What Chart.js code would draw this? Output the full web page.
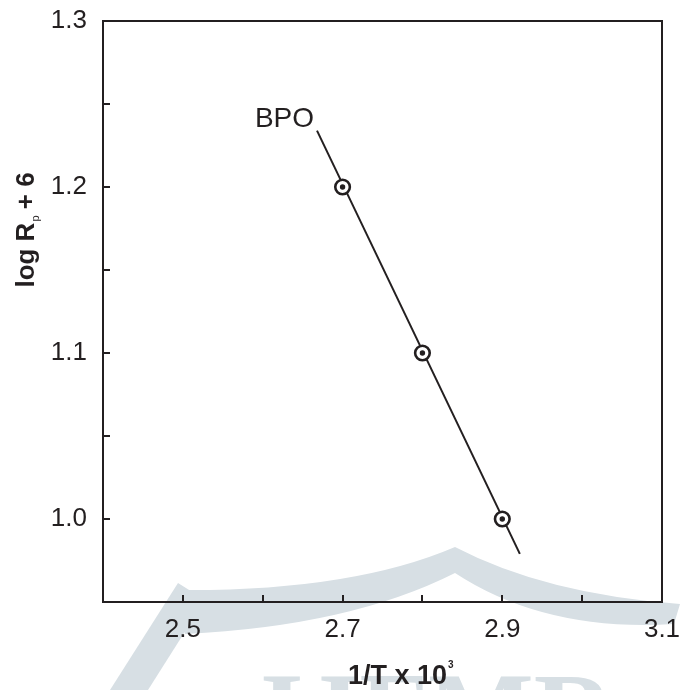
<!DOCTYPE html>
<html>
<head>
<meta charset="utf-8">
<title>log Rp + 6 vs 1/T</title>
<script src="https://cdn.jsdelivr.net/npm/chart.js@4.4.1/dist/chart.umd.min.js"></script>
<style>
    html, body { margin: 0; padding: 0; background: #fff; }
    #wrap { width: 685px; height: 690px; }
</style>
</head>
<body>
<div id="wrap"><canvas id="chart" width="685" height="690"></canvas></div>
<script>
// BPO points
const invT = [2.7, 2.8, 2.9];
const logRp = [1.2, 1.1, 1.0];
// straight line drawn through them (end points)
const fitX = [2.668, 2.922];
const fitY = [1.234, 0.979];
const seriesName = 'BPO';
const xRange = [2.4, 3.1];
const yRange = [0.95, 1.3];

const INK = '#231f20';
const FONT = '"Liberation Sans", Arial, sans-serif';

function toPoints(xs, ys) {
    return xs.map((x, i) => ({ x: x, y: ys[i] }));
}

// faint logo watermark behind the plot
const watermark = {
    id: 'watermark',
    beforeDraw(chart) {
        const ctx = chart.ctx;
        ctx.save();
        ctx.fillStyle = '#d7dfe4';
        ctx.beginPath();
        ctx.moveTo(110, 690);
        ctx.lineTo(148, 690);
        ctx.lineTo(205, 600);
        ctx.lineTo(178, 583);
        ctx.closePath();
        ctx.fill();

        ctx.beginPath();
        ctx.moveTo(175, 590);
        ctx.quadraticCurveTo(350, 592, 455, 547);
        ctx.quadraticCurveTo(545, 594, 680, 604);
        ctx.lineTo(674, 624);
        ctx.quadraticCurveTo(545, 632, 455, 573);
        ctx.quadraticCurveTo(350, 626, 185, 634);
        ctx.closePath();
        ctx.fill();

        ctx.font = 'bold 112px "Liberation Serif", "DejaVu Serif", serif';
        ctx.textBaseline = 'alphabetic';
        ctx.fillText('IJFMR', 260, 750);
        ctx.restore();
    }
};

// box, inward tick marks, axis titles and series label
const frame = {
    id: 'frame',
    afterDatasetsDraw(chart) {
        const ctx = chart.ctx;
        const area = chart.chartArea;
        const xs = chart.scales.x;
        const ys = chart.scales.y;
        const tick = 7;

        ctx.save();
        ctx.strokeStyle = INK;
        ctx.lineWidth = 2;
        ctx.strokeRect(area.left, area.top, area.right - area.left, area.bottom - area.top);

        ctx.beginPath();
        xs.ticks.forEach(t => {
            const px = Math.round(xs.getPixelForValue(t.value));
            ctx.moveTo(px, area.bottom);
            ctx.lineTo(px, area.bottom - tick);
        });
        ys.ticks.forEach(t => {
            const py = Math.round(ys.getPixelForValue(t.value));
            ctx.moveTo(area.left, py);
            ctx.lineTo(area.left + tick, py);
        });
        ctx.stroke();

        ctx.fillStyle = INK;
        ctx.textBaseline = 'alphabetic';

        // x title: 1/T x 10^3
        const main = '1/T x 10';
        const sup = '3';
        ctx.font = 'bold 27px ' + FONT;
        const wMain = ctx.measureText(main).width;
        let x0 = 348;
        ctx.fillText(main, x0, 684);
        ctx.font = 'bold 10px ' + FONT;
        ctx.fillText(sup, x0 + wMain + 1, 668);

        // y title: log R_p + 6
        const a = 'log R', sub = 'p', b = ' + 6';
        ctx.font = 'bold 26px ' + FONT;
        const wa = ctx.measureText(a).width;
        const wb = ctx.measureText(b).width;
        ctx.font = '11px ' + FONT;
        const ws = ctx.measureText(sub).width;
        const total = wa + ws + wb;
        ctx.translate(34, 230);
        ctx.rotate(-Math.PI / 2);
        let u = -total / 2;
        ctx.font = 'bold 26px ' + FONT;
        ctx.fillText(a, u, 0);
        u += wa;
        ctx.font = '11px ' + FONT;
        ctx.fillText(sub, u + 1, 5);
        u += ws;
        ctx.font = 'bold 26px ' + FONT;
        ctx.fillText(b, u, 0);
        ctx.setTransform(1, 0, 0, 1, 0, 0);

        // series label at the top end of the line
        const lx = xs.getPixelForValue(fitX[0]);
        const ly = ys.getPixelForValue(fitY[0]);
        ctx.font = '28px ' + FONT;
        ctx.textAlign = 'right';
        ctx.fillText(seriesName, lx - 3, ly - 4);
        ctx.restore();
    }
};

document.addEventListener('DOMContentLoaded', () => {
    const ctx = document.getElementById('chart');

    new Chart(ctx, {
        type: 'scatter',
        data: {
            datasets: [
                {
                    label: seriesName + ' fit',
                    data: toPoints(fitX, fitY),
                    showLine: true,
                    borderColor: INK,
                    borderWidth: 2,
                    pointRadius: 0,
                    order: 3
                },
                {
                    label: seriesName,
                    data: toPoints(invT, logRp),
                    pointRadius: 7.3,
                    pointBorderWidth: 2.6,
                    pointBorderColor: INK,
                    pointBackgroundColor: '#ffffff',
                    order: 2
                },
                {
                    label: seriesName + ' centre',
                    data: toPoints(invT, logRp),
                    pointRadius: 2.7,
                    pointBorderWidth: 0,
                    pointBackgroundColor: INK,
                    order: 1
                }
            ]
        },
        options: {
            responsive: false,
            devicePixelRatio: 1,
            animation: false,
            layout: {
                padding: { top: 21, right: 23, left: 0, bottom: 0 }
            },
            plugins: {
                legend: { display: false },
                tooltip: { enabled: false }
            },
            scales: {
                x: {
                    type: 'linear',
                    min: xRange[0],
                    max: xRange[1],
                    grid: { display: false },
                    border: { display: false },
                    afterFit: (scale) => {
                        scale.height = 88;
                        scale.paddingLeft = 0;
                        scale.paddingRight = 0;
                    },
                    ticks: {
                        stepSize: 0.1,
                        autoSkip: false,
                        maxRotation: 0,
                        padding: 4,
                        color: INK,
                        font: { family: FONT, size: 26 },
                        callback: (v) => Math.round(v * 10) % 2 === 1 ? v.toFixed(1) : ''
                    }
                },
                y: {
                    type: 'linear',
                    min: yRange[0],
                    max: yRange[1],
                    grid: { display: false },
                    border: { display: false },
                    afterFit: (scale) => {
                        scale.width = 103;
                        scale.paddingTop = 0;
                        scale.paddingBottom = 0;
                    },
                    ticks: {
                        stepSize: 0.05,
                        autoSkip: false,
                        padding: 8,
                        color: INK,
                        font: { family: FONT, size: 26 },
                        callback: (v) => Math.round(v * 100) % 10 === 0 ? v.toFixed(1) : ''
                    }
                }
            }
        },
        plugins: [watermark, frame]
    });
});
</script>
</body>
</html>
